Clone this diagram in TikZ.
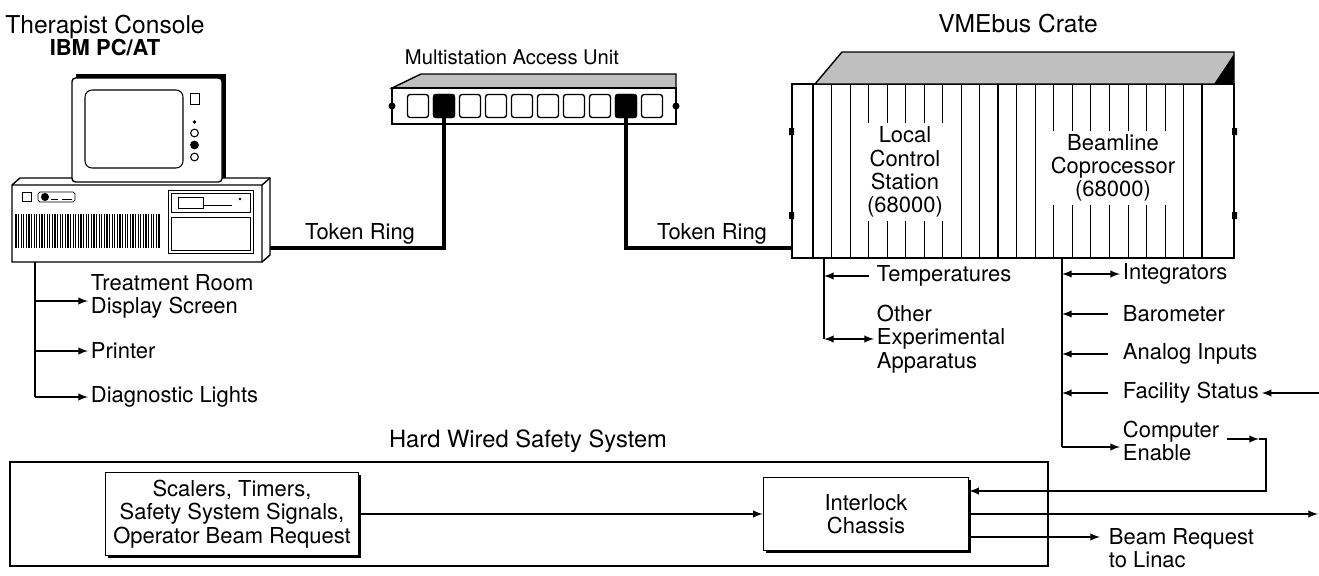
\documentclass[tikz,border=0pt]{standalone}
\usepackage{fontspec}
\setmainfont{TeX Gyre Heros}
\usetikzlibrary{calc,shadows}
\tikzset{
  lbl/.style={font=\fontsize{12.5}{13.2}\selectfont, inner sep=1.5pt, align=left, anchor=west},
  ttl/.style={font=\fontsize{14}{16}\selectfont, inner sep=0pt},
  cable/.style={line width=1.9pt},
  wire/.style={line width=0.9pt},
  port/.style={draw, thick, rounded corners=1.5pt, minimum width=0.42cm, minimum height=0.46cm, inner sep=0pt},
  sbox/.style={draw, fill=white, line width=0.9pt, align=center, inner sep=4.5pt,
    font=\fontsize{12.5}{13.2}\selectfont,
    drop shadow={opacity=1, fill=black, shadow xshift=1.3pt, shadow yshift=-1.3pt}},
}
\begin{document}
\begin{tikzpicture}[x=0.02cm,y=-0.02cm,>=latex]
      \useasboundingbox (0,0) rectangle (1319,575);
      % titles
      \node (tcon) at (105,27) [ttl] {Therapist Console};
      \node (ibm) at (105,48) [ttl, font=\fontsize{12.5}{13}\selectfont\bfseries] {IBM PC/AT};
      \node (maut) at (512,57) [ttl, font=\fontsize{11.5}{13}\selectfont] {Multistation Access Unit};
      \node (vmet) at (1018,24) [ttl] {VMEbus Crate};
      \node (hwst) at (528,441) [ttl, font=\fontsize{13.5}{15}\selectfont] {Hard Wired Safety System};

      % therapist console: base unit
      \draw[thick, fill=white] (12,185) -- (20,178) -- (270,178) -- (270,255) -- (262,262) -- (12,262) -- cycle;
      \draw[thick] (12,185) -- (262,185) -- (262,262) (262,185) -- (270,178);
      \draw (22,192) rectangle (31,201);
      \draw[rounded corners=1pt] (38,192) rectangle (75,202);
      \fill (45,197) circle (2.3pt);
      \draw (51,199) -- (58,199) (62,199) -- (72,199);
      \foreach \x in {16,18.6,...,160}
        \draw[line width=0.6pt] (\x,214) -- (\x,248);
      \draw (168,190) rectangle (253,253);
      \draw (171,193) rectangle (250,212);
      \draw (178,197) rectangle (203,208);
      \draw (203,205) -- (232,205);
      \fill (240,199) circle (0.8pt);
      \draw (171,217) rectangle (250,250);
      % monitor
      \fill (76,74) rectangle (226,178);
      \draw[thick, fill=white, rounded corners=2pt] (72,78) rectangle (222,182);
      \draw[semithick, rounded corners=4pt] (85,90) rectangle (183,168);
      \draw (190,93) rectangle (199,104);
      \fill (194.5,122) circle (1pt);
      \draw[semithick] (194.5,133) circle (2.2pt);
      \fill (194.5,145) circle (2.5pt);
      \draw[semithick] (194.5,157) circle (2.2pt);
      \coordinate (pcport) at (270,248);
      \coordinate (pcout) at (35,262);

      % multistation access unit
      \fill[black!25, draw=black, thick] (392,88) -- (421,74) -- (676,74) -- (676,88) -- cycle;
      \draw[thick, fill=white] (392,88) rectangle (676,124);
      \foreach \i in {0,...,9}
        \node (p\i) at (418+26*\i,106) [port] {};
      \node (p1) at (444,106) [port, fill=black] {};
      \node (p8) at (626,106) [port, fill=black] {};
      \fill (392,106) circle (2pt) (676,106) circle (2pt);

      % vmebus crate
      \node (vme) at (1013,171) [draw, thick, minimum width=8.84cm, minimum height=3.48cm] {};
      \fill[black!25, draw=black, thick] (815,84) -- (842,52) -- (1234,52) -- (1234,84) -- cycle;
      \fill (1234,54) -- (1234,84) -- (1214,84) -- cycle;
      \foreach \k in {0,...,21}
        \draw (813+18.52*\k,84) -- (813+18.52*\k,258);
      \draw[thick] (813,84) -- (813,258) (998,84) -- (998,258) (1202,84) -- (1202,258);
      \fill (789,128) rectangle (794,135) (789,212) rectangle (794,219);
      \fill (1232,128) rectangle (1237,135) (1232,212) rectangle (1237,219);
      \node (lcs) at (905,172) [lbl, anchor=center, align=center, fill=white, inner sep=2pt] {Local\\Control\\Station\\(68000)};
      \node (blc) at (1113,168) [lbl, anchor=center, align=center, fill=white, inner sep=2pt] {Beamline\\Coprocessor\\(68000)};

      % token ring
      \draw[cable] (pcport) -- (p1 |- pcport) -- (p1.center);
      \draw[cable] (p8.center) -- (p8 |- 0,248) -- (vme.west |- 0,248);
      \node (tr1) at (360,234) [lbl, anchor=center] {Token Ring};
      \node (tr2) at (712,234) [lbl, anchor=center] {Token Ring};

      % console outputs
      \node (trd) at (88,296) [lbl] {Treatment Room\\Display Screen};
      \node (prn) at (88,351) [lbl] {Printer};
      \node (dgl) at (88,397) [lbl] {Diagnostic Lights};
      \draw[wire] (pcout) -- (pcout |- dgl.west);
      \draw[wire,->] (pcout |- 0,301) -- ($(trd.west)+(0,5)$);
      \draw[wire,->] (pcout |- prn.west) -- (prn.west);
      \draw[wire,->] (pcout |- dgl.west) -- (dgl.west);

      % crate inputs and outputs
      \coordinate (lb) at (824,258);
      \coordinate (rb) at (1062,258);
      \node (tmp) at (874,276) [lbl] {Temperatures};
      \node (oea) at (874,339) [lbl] {Other\\Experimental\\Apparatus};
      \draw[wire] (lb) -- (lb |- oea.west);
      \draw[wire,<-] (lb |- tmp.west) -- ([xshift=-3pt]tmp.west);
      \draw[wire,<->] (lb |- oea.west) -- (oea.west);
      \node (int) at (1120,274) [lbl] {Integrators};
      \node (bar) at (1120,314) [lbl] {Barometer};
      \node (ain) at (1120,354) [lbl] {Analog Inputs};
      \node (fac) at (1120,393) [lbl] {Facility Status};
      \node (ce) at (1120,441) [lbl] {Computer\\Enable};
      \draw[wire] (rb) -- (rb |- 0,447);
      \draw[wire,->] (rb |- 0,447) -- ($(ce.west)+(0,6)$);
      \draw[wire,<->] (rb |- int.west) -- (int.west);
      \draw[wire,<-] (rb |- bar.west) -- ([xshift=-7pt]bar.west);
      \draw[wire,<-] (rb |- ain.west) -- ([xshift=-7pt]ain.west);
      \draw[wire,<-] (rb |- fac.west) -- ([xshift=-7pt]fac.west);
      \coordinate (facin) at (1319,393);
      \draw[wire,->] (facin) -- (fac.east);

      % hard wired safety system
      \draw[wire] (10,462) rectangle (1048,566);
      \node (scl) at (232,514) [sbox] {Scalers, Timers,\\Safety System Signals,\\Operator Beam Request};
      \node (ilk) at (866,514) [sbox, minimum width=4.1cm, minimum height=1.46cm] {Interlock\\Chassis};
      \draw[wire,->] (scl.east) -- (ilk.west);
      \coordinate (outr) at (1318,514);
      \draw[wire,->] (ilk.east) -- (outr);
      \coordinate (brqin) at (1100,537);
      \draw[wire,->] (ilk.east |- brqin) -- (brqin);
      \node (brq) at (1106,548) [lbl] {Beam Request\\to Linac};
      \coordinate (fbarr) at (1259,439);
      \coordinate (fbtop) at (1266,439);
      \draw[wire,->] ([xshift=3pt]ce.east |- fbarr) -- (fbarr);
      \draw[wire,->] (fbarr) -- (fbtop) |- (ilk.east |- 0,491);
\end{tikzpicture}
\end{document}
